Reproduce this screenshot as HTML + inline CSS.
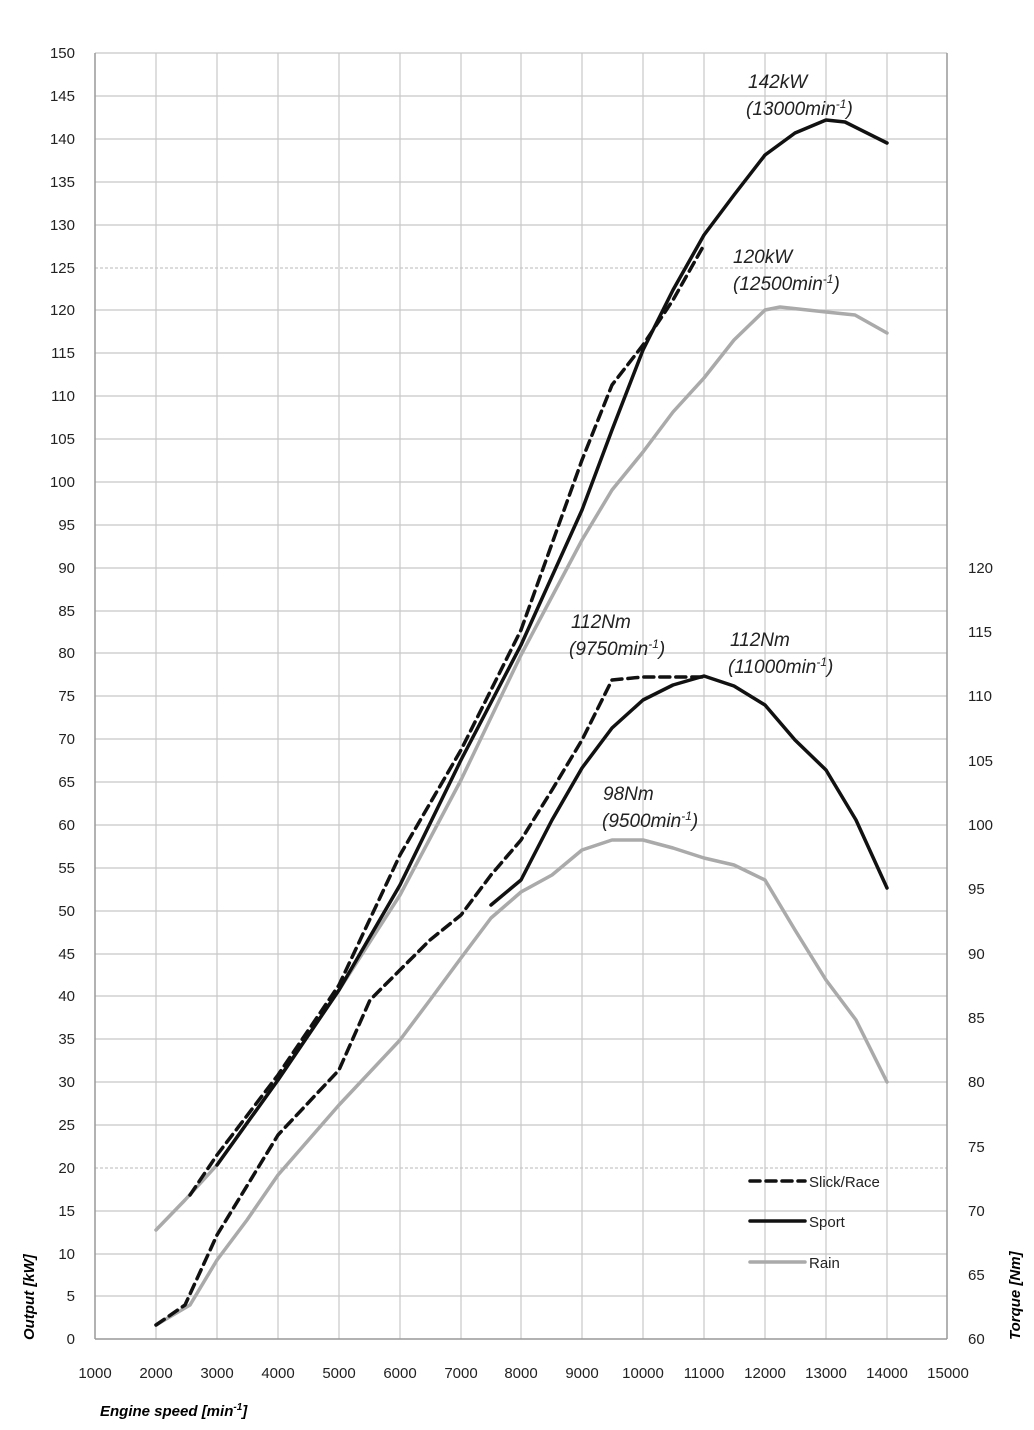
<!DOCTYPE html><html><head><style>body{margin:0;background:#fff}svg{display:block}</style></head><body>
<svg width="1034" height="1430" xmlns="http://www.w3.org/2000/svg" font-family="Liberation Sans, sans-serif">
<g stroke="#c8c8c8" stroke-width="1.2">
<line x1="95" y1="53" x2="947" y2="53"/><line x1="95" y1="96" x2="947" y2="96"/><line x1="95" y1="139" x2="947" y2="139"/><line x1="95" y1="182" x2="947" y2="182"/><line x1="95" y1="225" x2="947" y2="225"/><line x1="95" y1="268" x2="947" y2="268" stroke-dasharray="3,2"/><line x1="95" y1="310" x2="947" y2="310"/><line x1="95" y1="353" x2="947" y2="353"/><line x1="95" y1="396" x2="947" y2="396"/><line x1="95" y1="439" x2="947" y2="439"/><line x1="95" y1="482" x2="947" y2="482"/><line x1="95" y1="525" x2="947" y2="525"/><line x1="95" y1="568" x2="947" y2="568"/><line x1="95" y1="611" x2="947" y2="611"/><line x1="95" y1="653" x2="947" y2="653"/><line x1="95" y1="696" x2="947" y2="696"/><line x1="95" y1="739" x2="947" y2="739"/><line x1="95" y1="782" x2="947" y2="782"/><line x1="95" y1="825" x2="947" y2="825"/><line x1="95" y1="868" x2="947" y2="868"/><line x1="95" y1="911" x2="947" y2="911"/><line x1="95" y1="954" x2="947" y2="954"/><line x1="95" y1="996" x2="947" y2="996"/><line x1="95" y1="1039" x2="947" y2="1039"/><line x1="95" y1="1082" x2="947" y2="1082"/><line x1="95" y1="1125" x2="947" y2="1125"/><line x1="95" y1="1168" x2="947" y2="1168" stroke-dasharray="3,2"/><line x1="95" y1="1211" x2="947" y2="1211"/><line x1="95" y1="1254" x2="947" y2="1254"/><line x1="95" y1="1296" x2="947" y2="1296"/>
<line x1="156" y1="53" x2="156" y2="1339"/><line x1="217" y1="53" x2="217" y2="1339"/><line x1="278" y1="53" x2="278" y2="1339"/><line x1="339" y1="53" x2="339" y2="1339"/><line x1="400" y1="53" x2="400" y2="1339"/><line x1="461" y1="53" x2="461" y2="1339"/><line x1="521" y1="53" x2="521" y2="1339"/><line x1="582" y1="53" x2="582" y2="1339"/><line x1="643" y1="53" x2="643" y2="1339"/><line x1="704" y1="53" x2="704" y2="1339"/><line x1="765" y1="53" x2="765" y2="1339"/><line x1="826" y1="53" x2="826" y2="1339"/><line x1="887" y1="53" x2="887" y2="1339"/>
</g>
<g stroke="#999" stroke-width="1.5"><line x1="95" y1="53" x2="95" y2="1339"/><line x1="947" y1="53" x2="947" y2="1339"/><line x1="95" y1="1339" x2="947" y2="1339"/></g>
<g font-size="15" fill="#222" text-anchor="end">
<text x="75" y="58">150</text><text x="75" y="101">145</text><text x="75" y="144">140</text><text x="75" y="187">135</text><text x="75" y="230">130</text><text x="75" y="273">125</text><text x="75" y="315">120</text><text x="75" y="358">115</text><text x="75" y="401">110</text><text x="75" y="444">105</text><text x="75" y="487">100</text><text x="75" y="530">95</text><text x="75" y="573">90</text><text x="75" y="616">85</text><text x="75" y="658">80</text><text x="75" y="701">75</text><text x="75" y="744">70</text><text x="75" y="787">65</text><text x="75" y="830">60</text><text x="75" y="873">55</text><text x="75" y="916">50</text><text x="75" y="959">45</text><text x="75" y="1001">40</text><text x="75" y="1044">35</text><text x="75" y="1087">30</text><text x="75" y="1130">25</text><text x="75" y="1173">20</text><text x="75" y="1216">15</text><text x="75" y="1259">10</text><text x="75" y="1301">5</text><text x="75" y="1344">0</text>
</g>
<g font-size="15" fill="#222" text-anchor="middle">
<text x="95" y="1378">1000</text><text x="156" y="1378">2000</text><text x="217" y="1378">3000</text><text x="278" y="1378">4000</text><text x="339" y="1378">5000</text><text x="400" y="1378">6000</text><text x="461" y="1378">7000</text><text x="521" y="1378">8000</text><text x="582" y="1378">9000</text><text x="643" y="1378">10000</text><text x="704" y="1378">11000</text><text x="765" y="1378">12000</text><text x="826" y="1378">13000</text><text x="887" y="1378">14000</text><text x="948" y="1378">15000</text>
</g>
<g font-size="15" fill="#222">
<text x="968" y="573">120</text><text x="968" y="637">115</text><text x="968" y="701">110</text><text x="968" y="766">105</text><text x="968" y="830">100</text><text x="968" y="894">95</text><text x="968" y="959">90</text><text x="968" y="1023">85</text><text x="968" y="1087">80</text><text x="968" y="1152">75</text><text x="968" y="1216">70</text><text x="968" y="1280">65</text><text x="968" y="1344">60</text>
</g>
<text x="100" y="1416" font-size="15" font-weight="bold" font-style="italic">Engine speed [min<tspan font-size="10" dy="-6">-1</tspan><tspan dy="6">]</tspan></text>
<text transform="translate(34,1340) rotate(-90)" font-size="15" font-weight="bold" font-style="italic">Output [kW]</text>
<text transform="translate(1020,1340) rotate(-90)" font-size="15" font-weight="bold" font-style="italic">Torque [Nm]</text>
<g fill="none" stroke-width="3.5" stroke-linejoin="round" stroke-linecap="round">
<polyline stroke="#aaa" points="156,1230 185,1200 217,1165 278,1080 339,990 400,895 461,780 521,655 582,540 612,490 643,452 673,412 704,378 734,340 765,310 780,307 826,312 855,315 887,333"/>
<polyline stroke="#aaa" points="156,1325 190,1305 217,1260 247,1220 278,1175 339,1105 400,1040 430,1000 461,958 491,918 521,892 552,875 582,850 612,840 643,840 673,848 704,858 734,865 765,880 795,930 826,980 856,1020 887,1082"/>
<polyline stroke="#111" points="217,1165 278,1080 339,990 400,885 461,760 521,645 582,510 612,430 643,350 673,290 704,235 734,195 765,155 795,133 826,120 845,122 887,143"/>
<polyline stroke="#111" points="491,905 521,880 552,820 582,768 612,728 643,700 673,685 704,676 734,686 765,705 795,740 826,770 856,820 887,888"/>
<polyline stroke="#111" stroke-dasharray="10,6" points="190,1195 217,1155 278,1075 339,985 400,855 461,750 521,630 582,460 612,385 643,345 673,300 704,245"/>
<polyline stroke="#111" stroke-dasharray="10,6" points="156,1325 185,1305 217,1235 278,1135 339,1070 370,1000 400,970 430,940 461,915 491,875 521,840 552,790 582,740 612,680 643,677 704,677"/>
<line x1="750" y1="1181" x2="805" y2="1181" stroke="#111" stroke-dasharray="10,6"/>
<line x1="750" y1="1221" x2="805" y2="1221" stroke="#111"/>
<line x1="750" y1="1262" x2="805" y2="1262" stroke="#aaa"/>
</g>
<g font-size="15" fill="#222"><text x="809" y="1187">Slick/Race</text><text x="809" y="1227">Sport</text><text x="809" y="1268">Rain</text></g>
<g font-size="19" font-style="italic" fill="#222">
<text x="748" y="88">142kW</text><text x="746" y="115">(13000min<tspan font-size="12" dy="-7">-1</tspan><tspan dy="7">)</tspan></text>
<text x="733" y="263">120kW</text><text x="733" y="290">(12500min<tspan font-size="12" dy="-7">-1</tspan><tspan dy="7">)</tspan></text>
<text x="571" y="628">112Nm</text><text x="569" y="655">(9750min<tspan font-size="12" dy="-7">-1</tspan><tspan dy="7">)</tspan></text>
<text x="730" y="646">112Nm</text><text x="728" y="673">(11000min<tspan font-size="12" dy="-7">-1</tspan><tspan dy="7">)</tspan></text>
<text x="603" y="800">98Nm</text><text x="602" y="827">(9500min<tspan font-size="12" dy="-7">-1</tspan><tspan dy="7">)</tspan></text>
</g>
</svg></body></html>
